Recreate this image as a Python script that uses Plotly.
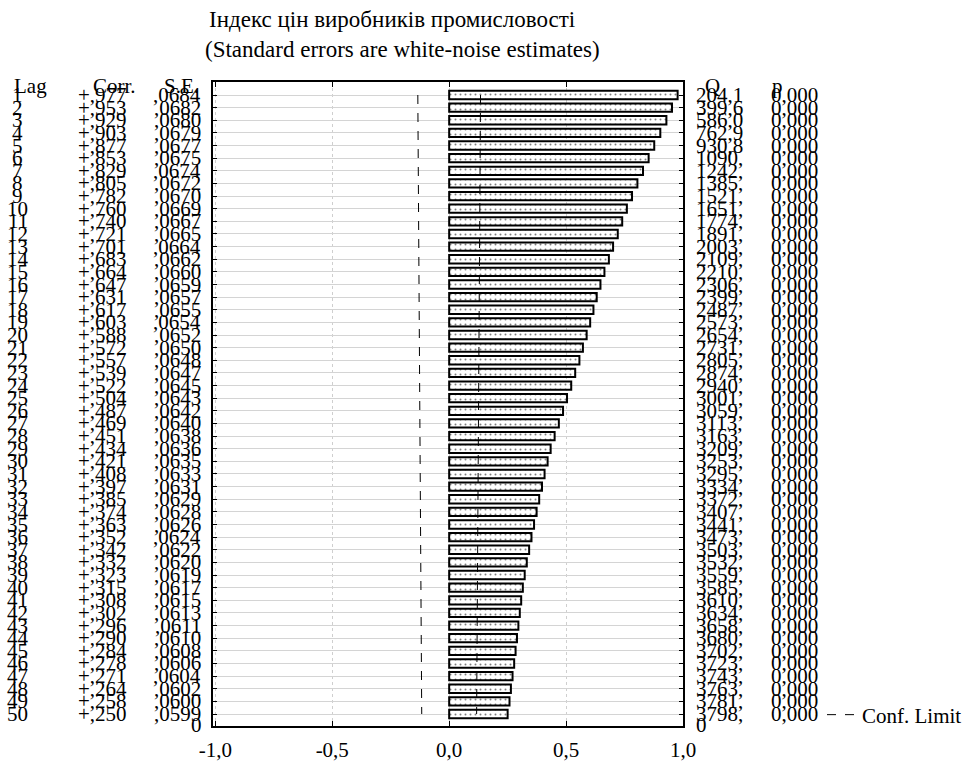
import plotly.graph_objects as go

lags = list(range(1, 51))
corr = [0.977, 0.953, 0.929, 0.903, 0.877, 0.853, 0.829, 0.805, 0.782, 0.760,
        0.740, 0.721, 0.701, 0.683, 0.664, 0.647, 0.631, 0.617, 0.603, 0.588,
        0.572, 0.557, 0.539, 0.522, 0.504, 0.487, 0.469, 0.451, 0.434, 0.421,
        0.408, 0.397, 0.385, 0.374, 0.363, 0.352, 0.342, 0.332, 0.323, 0.315,
        0.308, 0.302, 0.296, 0.290, 0.284, 0.278, 0.271, 0.264, 0.258, 0.250]
se = [0.0684, 0.0682, 0.0680, 0.0679, 0.0677, 0.0675, 0.0674, 0.0672, 0.0670, 0.0669,
      0.0667, 0.0665, 0.0664, 0.0662, 0.0660, 0.0659, 0.0657, 0.0655, 0.0654, 0.0652,
      0.0650, 0.0648, 0.0647, 0.0645, 0.0643, 0.0642, 0.0640, 0.0638, 0.0636, 0.0635,
      0.0633, 0.0631, 0.0629, 0.0628, 0.0626, 0.0624, 0.0622, 0.0620, 0.0619, 0.0617,
      0.0615, 0.0613, 0.0611, 0.0610, 0.0608, 0.0606, 0.0604, 0.0602, 0.0600, 0.0599]
q = [204.1, 399.6, 586.0, 762.9, 930.8, 1090, 1242, 1385, 1521, 1651,
     1774, 1891, 2003, 2109, 2210, 2306, 2399, 2487, 2573, 2654,
     2731, 2805, 2874, 2940, 3001, 3059, 3113, 3163, 3209, 3253,
     3295, 3334, 3372, 3407, 3441, 3473, 3503, 3532, 3559, 3585,
     3610, 3634, 3658, 3680, 3702, 3723, 3743, 3763, 3781, 3798]
p = [0.000] * 50
x_tickvals = [-1.0, -0.5, 0.0, 0.5, 1.0]
x_ticktext = ["-1,0", "-0,5", "0,0", "0,5", "1,0"]

FONT = "Liberation Serif, Times New Roman, serif"
FS = 21
TITLE_FS = 23

def fmt_corr(v):
    return ("+" if v >= 0 else "-") + "," + f"{abs(v):.3f}".split(".")[1]

def fmt_se(v):
    return "," + f"{v:.4f}".split(".")[1]

def fmt_q(v):
    if v < 1000:
        return f"{v:.1f}".replace(".", ",")
    return f"{int(round(v))},"

def fmt_p(v):
    return f"{v:.3f}".replace(".", ",")

fig = go.Figure()

fig.add_trace(go.Bar(
    x=corr, y=lags, orientation="h", width=0.66,
    marker=dict(color="white", line=dict(color="black", width=2),
                pattern=dict(shape=".", fgcolor="black", bgcolor="white",
                             size=5, solidity=0.12)),
    showlegend=False, hoverinfo="skip",
))

lim = [1.96 * s for s in se]
fig.add_trace(go.Scatter(
    x=[-v for v in lim], y=lags, mode="lines",
    line=dict(color="black", width=1, dash="dash"),
    name="Conf. Limit", showlegend=True,
))
fig.add_trace(go.Scatter(
    x=lim, y=lags, mode="lines",
    line=dict(color="black", width=1, dash="dash"),
    showlegend=False,
))

L, R, T, B = 213, 283, 82, 36
PW = 966 - L - R
PH = 762 - T - B

def px(xpix):
    return (xpix - L) / PW

def py(ypix):
    return (762 - B - ypix) / PH

ann = []
def add(text, xpix, y, anchor):
    ann.append(dict(text=text, x=px(xpix), xref="paper", y=y, yref="y",
                    xanchor=anchor, yanchor="middle", showarrow=False,
                    font=dict(family=FONT, size=FS, color="black")))

hy = 0.3
add("Lag", 30, hy, "center")
add("Corr.", 114, hy, "center")
add("S.E.", 181, hy, "center")
add("Q", 703, hy, "left")
add("p", 770, hy, "left")

for i, lag in enumerate(lags):
    add(str(lag), 17.5, lag, "center")
    add(fmt_corr(corr[i]), 129, lag, "right")
    add(fmt_se(se[i]), 203, lag, "right")
    add(fmt_q(q[i]), 694, lag, "left")
    add(fmt_p(p[i]), 769, lag, "left")

add("0", 204, 50.85, "right")
add("0", 694, 50.85, "left")

ann.append(dict(text="Індекс цін виробників промисловості", x=px(392), xref="paper",
                y=py(20), yref="paper", showarrow=False, xanchor="center", yanchor="middle",
                font=dict(family=FONT, size=TITLE_FS, color="black")))
ann.append(dict(text="(Standard errors are white-noise estimates)", x=px(402), xref="paper",
                y=py(50), yref="paper", showarrow=False, xanchor="center", yanchor="middle",
                font=dict(family=FONT, size=TITLE_FS, color="black")))

fig.update_layout(
    width=966, height=762,
    margin=dict(l=L, r=R, t=T, b=B, autoexpand=False),
    paper_bgcolor="white", plot_bgcolor="white",
    font=dict(family=FONT, size=FS, color="black"),
    annotations=ann,
    legend=dict(x=px(822), y=py(715), xanchor="left", yanchor="middle",
                bgcolor="rgba(0,0,0,0)", font=dict(family=FONT, size=FS),
                itemwidth=30, tracegroupgap=0),
    xaxis=dict(range=[-1.01, 1.0], tickvals=x_tickvals, ticktext=x_ticktext,
               ticks="inside", ticklen=5, tickcolor="black", mirror="ticks",
               showline=True, linecolor="black", linewidth=2,
               showgrid=True, gridcolor="#cfcfcf", gridwidth=1, griddash="dot",
               zeroline=False, automargin=False, ticklabelstandoff=4,
               tickfont=dict(family=FONT, size=FS)),
    yaxis=dict(range=[50.95, -0.03], tickvals=lags, showticklabels=False,
               ticks="inside", ticklen=4, tickcolor="black", mirror="ticks",
               showline=True, linecolor="black", linewidth=2,
               showgrid=True, gridcolor="#d4d4d4", gridwidth=1,
               zeroline=False, automargin=False),
)

fig.write_html("out.html", config={"displayModeBar": False},
               post_script="document.body.style.margin='0';document.body.style.overflow='hidden';")
